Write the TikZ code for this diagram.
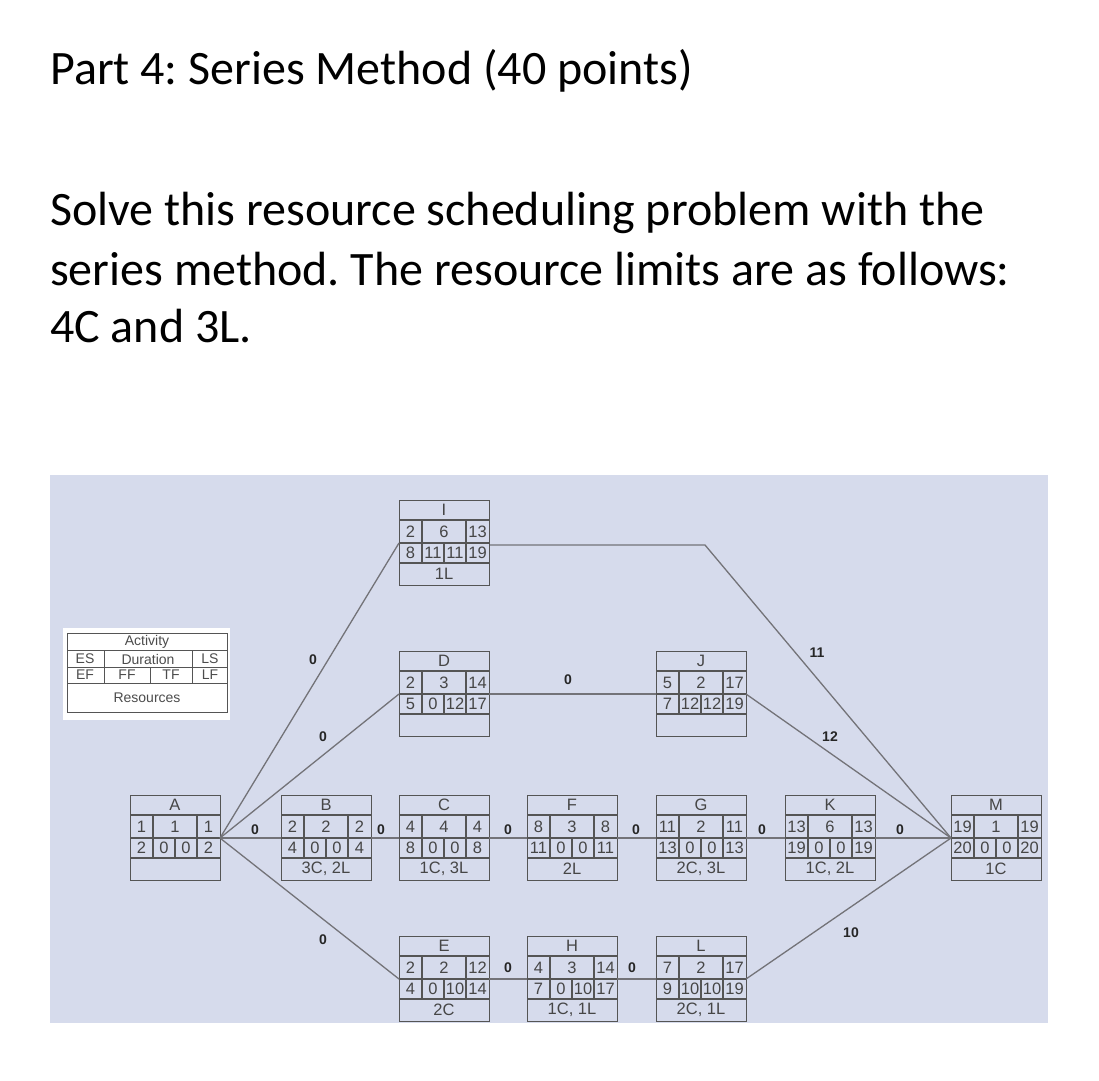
\documentclass[tikz,border=0pt]{standalone}
\usepackage{fontspec}
\setmainfont{Carlito}
\newfontfamily\boxfont{Liberation Sans}
\frenchspacing
\definecolor{panel}{RGB}{214,219,236}
\definecolor{bx}{RGB}{85,85,85}
\definecolor{ln}{RGB}{115,115,120}
\definecolor{tx}{RGB}{70,70,70}
\tikzset{
 cell/.style={font=\boxfont\fontsize{16.5}{16.5}\selectfont,text=tx,inner sep=0pt},
 wt/.style={font=\boxfont\bfseries\fontsize{14}{14}\selectfont,text=black!85,inner sep=0pt},
 conn/.style={draw=ln,line width=1.3pt},
 frame/.style={draw=bx,line width=1.2pt}
}
\newcommand\actbox[8]{%
 \node[frame,minimum width=90pt,minimum height=85pt,anchor=north west,inner sep=0pt] (#1) at (#2,#3) {};
 \coordinate (#1-in) at (#2,#3+43);
 \coordinate (#1-out) at (#2+90,#3+43);
 \draw[frame] (#2,#3+20) -- ++(90,0) (#2,#3+43) -- ++(90,0) (#2,#3+63) -- ++(90,0)
   (#2+23,#3+20) -- (#2+23,#3+63) (#2+67,#3+20) -- (#2+67,#3+63) (#2+45,#3+43) -- (#2+45,#3+63);
 \node[cell] at (#2+45,#3+10) {#4};
 \node[cell] at (#2+11.5,#3+31.5) {\csname ES#1\endcsname};
 \node[cell] at (#2+45,#3+31.5) {#5};
 \node[cell] at (#2+78.5,#3+31.5) {#6};
 \node[cell] at (#2+11.5,#3+53) {#7};
 \node[cell] at (#2+34,#3+53) {#8};
 \node[cell] at (#2+56,#3+53) {\csname TF#1\endcsname};
 \node[cell] at (#2+78.5,#3+53) {\csname LF#1\endcsname};
 \node[cell] at (#2+45,#3+74) {\csname RS#1\endcsname};
}
\newcommand\setvals[5]{\expandafter\def\csname ES#1\endcsname{#2}\expandafter\def\csname TF#1\endcsname{#3}\expandafter\def\csname LF#1\endcsname{#4}\expandafter\def\csname RS#1\endcsname{#5}}
\begin{document}
\begin{tikzpicture}[x=1pt,y=-1pt]
\useasboundingbox[fill=white] (0,0) rectangle (1099,1080);
\tikzset{ttl/.style={anchor=base west,inner sep=0pt,font=\fontsize{48}{48}\selectfont}}
\node[ttl] (t1) at (50,84) {Part 4: Series Method (40 points)};
\node[ttl] (t2) at (50,225) {Solve this resource scheduling problem with the};
\node[ttl] (t3) at (50,285) {series method. The resource limits are as follows:};
\node[ttl] (t4) at (50,342) {4C and 3L.};
\fill[panel] (50,475) rectangle (1048,1023);
% legend
\fill[white] (63,628) rectangle (230,720);
\begin{scope}[draw=bx,line width=1pt]
\draw (67,633) rectangle (227,712);
\draw (67,650) -- (227,650) (67,667) -- (227,667) (67,683) -- (227,683);
\draw (104,650) -- (104,683) (192,650) -- (192,683) (150,667) -- (150,683);
\end{scope}
\begin{scope}[every node/.style={font=\boxfont\fontsize{14}{14}\selectfont,text=black!70,inner sep=0pt}]
\node (lg1) at (147,642) {Activity};
\node (lg2) at (85,659) {ES};
\node (lg3) at (148,659) {Duration};
\node (lg4) at (210,659) {LS};
\node (lg5) at (85,675) {EF};
\node (lg6) at (127,675) {FF};
\node (lg7) at (171,675) {TF};
\node (lg8) at (210,675) {LF};
\node (lg9) at (147,698) {Resources};
\end{scope}
% boxes
\setvals{A}{1}{0}{2}{}
\actbox{A}{130}{795}{A}{1}{1}{2}{0}
\setvals{B}{2}{0}{4}{3C, 2L}
\actbox{B}{281}{795}{B}{2}{2}{4}{0}
\setvals{C}{4}{0}{8}{1C, 3L}
\actbox{C}{399}{795}{C}{4}{4}{8}{0}
\setvals{F}{8}{0}{11}{2L}
\actbox{F}{527}{795}{F}{3}{8}{11}{0}
\setvals{G}{11}{0}{13}{2C, 3L}
\actbox{G}{656}{795}{G}{2}{11}{13}{0}
\setvals{K}{13}{0}{19}{1C, 2L}
\actbox{K}{785}{795}{K}{6}{13}{19}{0}
\setvals{M}{19}{0}{20}{1C}
\actbox{M}{951}{795}{M}{1}{19}{20}{0}
\setvals{E}{2}{10}{14}{2C}
\actbox{E}{399}{936}{E}{2}{12}{4}{0}
\setvals{H}{4}{10}{17}{1C, 1L}
\actbox{H}{527}{936}{H}{3}{14}{7}{0}
\setvals{L}{7}{10}{19}{2C, 1L}
\actbox{L}{656}{936}{L}{2}{17}{9}{10}
\setvals{I}{2}{11}{19}{1L}
\actbox{I}{399}{500}{I}{6}{13}{8}{11}
\setvals{D}{2}{12}{17}{}
\actbox{D}{399}{651}{D}{3}{14}{5}{0}
\setvals{J}{5}{12}{19}{}
\actbox{J}{656}{651}{J}{2}{17}{7}{12}
% connectors
\coordinate (bend) at (705,545);
\draw[conn] (A-out) -- (I-in);
\draw[conn] (A-out) -- (D-in);
\draw[conn] (A-out) -- (B-in);
\draw[conn] (A-out) -- (E-in);
\draw[conn] (B-out) -- (C-in);
\draw[conn] (C-out) -- (F-in);
\draw[conn] (F-out) -- (G-in);
\draw[conn] (G-out) -- (K-in);
\draw[conn] (K-out) -- (M-in);
\draw[conn] (E-out) -- (H-in);
\draw[conn] (H-out) -- (L-in);
\draw[conn] (D-out) -- (J-in);
\draw[conn] (I.east |- bend) -- (bend) -- (M-in);
\draw[conn] (J-out) -- (M-in);
\draw[conn] (L-out) -- (M-in);
% weights
\node[wt] (w1) at (313,660) {0};
\node[wt] (w2) at (323,737) {0};
\node[wt] (w3) at (255,830) {0};
\node[wt] (w4) at (323,940) {0};
\node[wt] (w5) at (381,830) {0};
\node[wt] (w6) at (508,830) {0};
\node[wt] (w7) at (636,830) {0};
\node[wt] (w8) at (762,830) {0};
\node[wt] (w9) at (900,830) {0};
\node[wt] (w10) at (508,968) {0};
\node[wt] (w11) at (632,968) {0};
\node[wt] (w12) at (568,680) {0};
\node[wt] (w13) at (817,653) {11};
\node[wt] (w14) at (830,737) {12};
\node[wt] (w15) at (851,933) {10};
\end{tikzpicture}
\end{document}
